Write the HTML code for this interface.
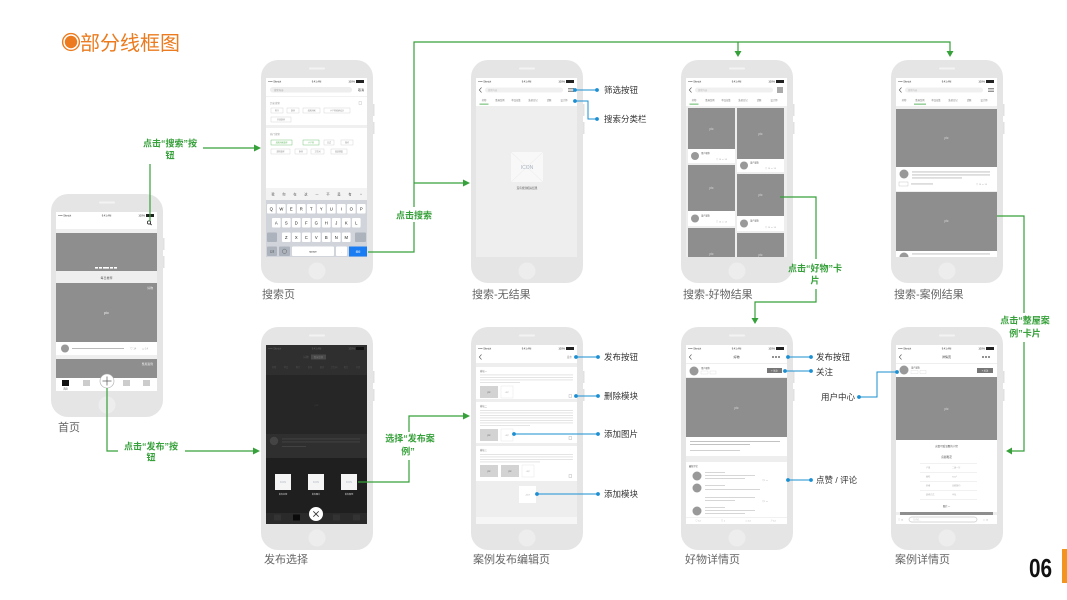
<!DOCTYPE html>
<html><head><meta charset="utf-8">
<style>
html,body{margin:0;padding:0;background:#fff;}
svg{display:block;}
text{font-family:"Liberation Sans","Noto Sans CJK SC",sans-serif;}
</style></head><body>
<svg width="1067" height="600" viewBox="0 0 1067 600" xmlns="http://www.w3.org/2000/svg">
<defs><clipPath id="sc"><rect x="0" y="0" width="101" height="179"/></clipPath></defs>
<rect width="1067" height="600" fill="#fff"/>

<!-- Title -->
<circle cx="71" cy="42" r="8.4" fill="#fff" stroke="#eb7b1e" stroke-width="1.4"/>
<circle cx="71" cy="42" r="6.2" fill="#eb7b1e"/>
<text x="80" y="50" font-size="20" fill="#eb7b1e">部分线框图</text>

<!-- Page number -->
<text x="1029" y="577" font-size="26" font-weight="bold" fill="#111" transform="translate(1029 0) scale(0.8 1) translate(-1029 0)">06</text>
<rect x="1062" y="549" width="5" height="34" fill="#f29420"/>

<!-- ============ PHONE BODIES ============ -->
<g fill="#e5e5e5">
<rect x="51" y="194" width="112" height="223" rx="17"/>
<rect x="261" y="60" width="112" height="223" rx="17"/>
<rect x="471" y="60" width="112" height="223" rx="17"/>
<rect x="681" y="60" width="112" height="223" rx="17"/>
<rect x="891" y="60" width="112" height="223" rx="17"/>
<rect x="261" y="327" width="112" height="223" rx="17"/>
<rect x="471" y="327" width="112" height="223" rx="17"/>
<rect x="681" y="327" width="112" height="223" rx="17"/>
<rect x="891" y="327" width="112" height="223" rx="17"/>
</g>
<g fill="#e1e1e1">
<rect x="163" y="238" width="1.5" height="12"/><rect x="163" y="256" width="1.5" height="12"/>
<rect x="373" y="104" width="1.5" height="12"/><rect x="373" y="122" width="1.5" height="12"/>
<rect x="583" y="104" width="1.5" height="12"/><rect x="583" y="122" width="1.5" height="12"/>
<rect x="793" y="104" width="1.5" height="12"/><rect x="793" y="122" width="1.5" height="12"/>
<rect x="1003" y="104" width="1.5" height="12"/><rect x="1003" y="122" width="1.5" height="12"/>
<rect x="373" y="371" width="1.5" height="12"/><rect x="373" y="389" width="1.5" height="12"/>
<rect x="583" y="371" width="1.5" height="12"/><rect x="583" y="389" width="1.5" height="12"/>
<rect x="793" y="371" width="1.5" height="12"/><rect x="793" y="389" width="1.5" height="12"/>
<rect x="1003" y="371" width="1.5" height="12"/><rect x="1003" y="389" width="1.5" height="12"/>
</g>
<g fill="#f3f3f3">
<rect x="99" y="201.5" width="16" height="2" rx="1"/>
<rect x="309" y="67.5" width="16" height="2" rx="1"/>
<rect x="519" y="67.5" width="16" height="2" rx="1"/>
<rect x="729" y="67.5" width="16" height="2" rx="1"/>
<rect x="939" y="67.5" width="16" height="2" rx="1"/>
<rect x="309" y="334.5" width="16" height="2" rx="1"/>
<rect x="519" y="334.5" width="16" height="2" rx="1"/>
<rect x="729" y="334.5" width="16" height="2" rx="1"/>
<rect x="939" y="334.5" width="16" height="2" rx="1"/>
</g>
<g fill="#ededed">
<circle cx="107" cy="405" r="8.5"/>
<circle cx="317" cy="271" r="8.5"/>
<circle cx="527" cy="271" r="8.5"/>
<circle cx="737" cy="271" r="8.5"/>
<circle cx="947" cy="271" r="8.5"/>
<circle cx="317" cy="538" r="8.5"/>
<circle cx="527" cy="538" r="8.5"/>
<circle cx="737" cy="538" r="8.5"/>
<circle cx="947" cy="538" r="8.5"/>
</g>

<!-- ============ P1 HOME ============ -->
<g transform="translate(56,212)" clip-path="url(#sc)">
<rect width="101" height="179" fill="#efefef"/>
<rect width="101" height="17" fill="#fff"/>
<text x="2" y="4.3" font-size="2.6" fill="#333">••••• Sketch</text><text x="50.5" y="4.3" font-size="2.6" fill="#333" text-anchor="middle">9:41 AM</text><text x="89" y="4.3" font-size="2.6" fill="#333" text-anchor="end">100%</text><rect x="90" y="2" width="8" height="3" fill="#222"/>
<circle cx="93" cy="10.5" r="1.6" fill="none" stroke="#222" stroke-width="0.8"/><line x1="94.2" y1="11.7" x2="95.6" y2="13.1" stroke="#222" stroke-width="0.9"/>
<rect y="21" width="101" height="38" fill="#8e8e8e"/>
<rect x="39" y="55" width="3" height="1.6" fill="#fff"/><rect x="43" y="55" width="3" height="1.6" fill="#fff"/><rect x="47" y="55" width="6" height="1.6" fill="#fff"/><rect x="54" y="55" width="3" height="1.6" fill="#fff"/><rect x="58" y="55" width="3" height="1.6" fill="#fff"/>
<text x="50.5" y="67" font-size="3" fill="#666" text-anchor="middle">每日推荐</text>
<rect y="71" width="101" height="59" fill="#8e8e8e"/>
<text x="50.5" y="102" font-size="4" fill="#eee" text-anchor="middle">pic</text>
<text x="97" y="77" font-size="2.8" fill="#eee" text-anchor="end">好物</text>
<rect y="130" width="101" height="13" fill="#fff"/>
<circle cx="9" cy="136.5" r="4" fill="#999"/>
<rect x="16" y="136" width="52" height="1" fill="#bbb"/>
<text x="74" y="137.5" font-size="2.6" fill="#aaa">♡ 14</text><text x="86" y="137.5" font-size="2.6" fill="#aaa">▭ 14</text>
<rect y="147" width="101" height="19" fill="#8e8e8e"/>
<text x="97" y="153" font-size="2.8" fill="#eee" text-anchor="end">整屋案例</text>
<rect y="166" width="101" height="13" fill="#fff"/>
<rect x="6" y="168" width="7" height="6" fill="#111"/>
<text x="9.5" y="177.5" font-size="2.2" fill="#333" text-anchor="middle">首页</text>
<rect x="27" y="168" width="7" height="6" fill="#ccc"/><rect x="67" y="168" width="7" height="6" fill="#ccc"/><rect x="87" y="168" width="7" height="6" fill="#ccc"/>
<circle cx="51" cy="169" r="7" fill="#fff" stroke="#aaa" stroke-width="0.6"/>
<line x1="46.5" y1="169" x2="55.5" y2="169" stroke="#555" stroke-width="0.7"/><line x1="51" y1="164.5" x2="51" y2="173.5" stroke="#555" stroke-width="0.7"/>
</g>

<!-- ============ P2 SEARCH ============ -->
<g transform="translate(266,78)" clip-path="url(#sc)">
<rect width="101" height="179" fill="#fff"/>
<text x="2" y="4.3" font-size="2.6" fill="#333">••••• Sketch</text><text x="50.5" y="4.3" font-size="2.6" fill="#333" text-anchor="middle">9:41 AM</text><text x="89" y="4.3" font-size="2.6" fill="#333" text-anchor="end">100%</text><rect x="90" y="2" width="8" height="3" fill="#222"/>
<rect x="4" y="9" width="82" height="5.5" rx="2.7" fill="#eee"/>
<text x="8" y="12.8" font-size="2.4" fill="#aaa">搜索内容</text>
<text x="95" y="12.8" font-size="3" fill="#444" text-anchor="middle">取消</text>
<rect y="18.5" width="101" height="0.5" fill="#e5e5e5"/>
<text x="4" y="26" font-size="2.5" fill="#999">历史搜索</text>
<rect x="93" y="23.5" width="2.5" height="3" fill="none" stroke="#bbb" stroke-width="0.4"/>
<g fill="#fff" stroke="#ccc" stroke-width="0.4">
<rect x="5" y="30" width="12" height="5"/><rect x="21" y="30" width="12" height="5"/><rect x="37" y="30" width="17" height="5"/><rect x="58" y="30" width="26" height="5"/><rect x="5" y="39" width="20" height="5"/>
<rect x="58" y="62" width="10" height="5"/><rect x="75" y="62" width="12" height="5"/>
<rect x="5" y="71" width="19" height="5"/><rect x="29" y="71" width="12" height="5"/><rect x="45" y="71" width="13" height="5"/><rect x="65" y="71" width="16" height="5"/>
</g>
<g fill="#fff" stroke="#5cb85c" stroke-width="0.4"><rect x="5" y="62" width="21" height="5"/><rect x="37" y="62" width="16" height="5"/></g>
<g font-size="2" fill="#888" text-anchor="middle">
<text x="11" y="33.3">客厅</text><text x="27" y="33.3">厨房</text><text x="45.5" y="33.3">北欧风格</text><text x="71" y="33.3">小户型收纳设计</text><text x="15" y="42.3">开放厨房</text>
<text x="63" y="65.3">日式</text><text x="81" y="65.3">简约</text>
<text x="14.5" y="74.3">混搭装修</text><text x="35" y="74.3">卧室</text><text x="51.5" y="74.3">卫生间</text><text x="73" y="74.3">软装搭配</text>
</g>
<g font-size="2" fill="#5cb85c" text-anchor="middle"><text x="15.5" y="65.3">北欧风格装修</text><text x="45" y="65.3">小户型</text></g>
<rect y="47" width="101" height="3" fill="#f0f0f0"/>
<text x="4" y="57" font-size="2.5" fill="#999">热门搜索</text>
<!-- keyboard -->
<rect y="110" width="101" height="69" fill="#d1d5db"/>
<rect y="110" width="101" height="12" fill="#f3f3f3"/>
<g font-size="3.2" fill="#555" text-anchor="middle">
<text x="7" y="117.5">我</text><text x="18" y="117.5">你</text><text x="29" y="117.5">在</text><text x="40" y="117.5">这</text><text x="51" y="117.5">一</text><text x="62" y="117.5">不</text><text x="73" y="117.5">是</text><text x="84" y="117.5">有</text><text x="95" y="118">^</text>
</g>
<g fill="#fff">
<rect x="1" y="126" width="8.6" height="9.5" rx="1"/><rect x="11" y="126" width="8.6" height="9.5" rx="1"/><rect x="21" y="126" width="8.6" height="9.5" rx="1"/><rect x="31" y="126" width="8.6" height="9.5" rx="1"/><rect x="41" y="126" width="8.6" height="9.5" rx="1"/><rect x="51" y="126" width="8.6" height="9.5" rx="1"/><rect x="61" y="126" width="8.6" height="9.5" rx="1"/><rect x="71" y="126" width="8.6" height="9.5" rx="1"/><rect x="81" y="126" width="8.6" height="9.5" rx="1"/><rect x="91" y="126" width="8.6" height="9.5" rx="1"/>
<rect x="6" y="140" width="8.6" height="9.5" rx="1"/><rect x="16" y="140" width="8.6" height="9.5" rx="1"/><rect x="26" y="140" width="8.6" height="9.5" rx="1"/><rect x="36" y="140" width="8.6" height="9.5" rx="1"/><rect x="46" y="140" width="8.6" height="9.5" rx="1"/><rect x="56" y="140" width="8.6" height="9.5" rx="1"/><rect x="66" y="140" width="8.6" height="9.5" rx="1"/><rect x="76" y="140" width="8.6" height="9.5" rx="1"/><rect x="86" y="140" width="8.6" height="9.5" rx="1"/>
<rect x="16" y="154.5" width="8.6" height="9.5" rx="1"/><rect x="26" y="154.5" width="8.6" height="9.5" rx="1"/><rect x="36" y="154.5" width="8.6" height="9.5" rx="1"/><rect x="46" y="154.5" width="8.6" height="9.5" rx="1"/><rect x="56" y="154.5" width="8.6" height="9.5" rx="1"/><rect x="66" y="154.5" width="8.6" height="9.5" rx="1"/><rect x="76" y="154.5" width="8.6" height="9.5" rx="1"/>
<rect x="26" y="168.5" width="42" height="9.5" rx="1"/><rect x="70" y="168.5" width="11" height="9.5" rx="1"/>
</g>
<g fill="#adb3bc">
<rect x="1" y="154.5" width="10" height="9.5" rx="1"/><rect x="89" y="154.5" width="11" height="9.5" rx="1"/>
<rect x="1" y="168.5" width="10" height="9.5" rx="1"/><rect x="13" y="168.5" width="11" height="9.5" rx="1"/>
</g>
<rect x="83" y="168.5" width="18" height="10" fill="#1a7cf2"/>
<g font-size="4.2" fill="#222" text-anchor="middle">
<text x="5.3" y="132.5">Q</text><text x="15.3" y="132.5">W</text><text x="25.3" y="132.5">E</text><text x="35.3" y="132.5">R</text><text x="45.3" y="132.5">T</text><text x="55.3" y="132.5">Y</text><text x="65.3" y="132.5">U</text><text x="75.3" y="132.5">I</text><text x="85.3" y="132.5">O</text><text x="95.3" y="132.5">P</text>
<text x="10.3" y="146.5">A</text><text x="20.3" y="146.5">S</text><text x="30.3" y="146.5">D</text><text x="40.3" y="146.5">F</text><text x="50.3" y="146.5">G</text><text x="60.3" y="146.5">H</text><text x="70.3" y="146.5">J</text><text x="80.3" y="146.5">K</text><text x="90.3" y="146.5">L</text>
<text x="20.3" y="161">Z</text><text x="30.3" y="161">X</text><text x="40.3" y="161">C</text><text x="50.3" y="161">V</text><text x="60.3" y="161">B</text><text x="70.3" y="161">N</text><text x="80.3" y="161">M</text>
</g>
<text x="6" y="174.5" font-size="2.6" fill="#333" text-anchor="middle">123</text>
<circle cx="18.5" cy="173.3" r="2.2" fill="none" stroke="#555" stroke-width="0.4"/>
<text x="47" y="174.5" font-size="2.8" fill="#333" text-anchor="middle">space</text>
<text x="75.5" y="174.5" font-size="3" fill="#333" text-anchor="middle">.</text>
<text x="92" y="174.5" font-size="2.4" fill="#fff" text-anchor="middle">搜索</text>
</g>

<!-- ============ P3 NO RESULT ============ -->
<g transform="translate(476,78)" clip-path="url(#sc)">
<rect width="101" height="179" fill="#eee"/>
<rect width="101" height="28" fill="#fff"/>
<text x="2" y="4.3" font-size="2.6" fill="#333">••••• Sketch</text><text x="50.5" y="4.3" font-size="2.6" fill="#333" text-anchor="middle">9:41 AM</text><text x="89" y="4.3" font-size="2.6" fill="#333" text-anchor="end">100%</text><rect x="90" y="2" width="8" height="3" fill="#222"/>
<path d="M5.5,9.5 L3.3,12 L5.5,14.5" stroke="#555" stroke-width="0.6" fill="none"/>
<rect x="9" y="9.5" width="78" height="5" rx="2.5" fill="#f0f0f0"/>
<text x="12" y="13" font-size="2.3" fill="#bbb">搜索内容</text>
<path d="M92,10.3 H98 M92,12 H98 M92,13.7 H98" stroke="#555" stroke-width="0.6"/>
<g font-size="2.3" fill="#777" text-anchor="middle"><text x="8" y="23">好物</text><text x="24" y="23">整屋案例</text><text x="40" y="23">单品征集</text><text x="57" y="23">装修日记</text><text x="73" y="23">话题</text><text x="88" y="23">设计师</text></g>
<rect x="3.5" y="25.7" width="9" height="0.8" fill="#3aa640"/>
<rect x="35" y="74" width="32" height="30" fill="#f8f8f8"/>
<path d="M35,74 L67,104 M67,74 L35,104" stroke="#e2e2e2" stroke-width="0.4"/>
<text x="51" y="91" font-size="5" fill="#a9b4c2" text-anchor="middle">ICON</text>
<text x="51" y="111" font-size="2.6" fill="#555" text-anchor="middle">没有找到相关结果</text>
</g>

<!-- ============ P4 GOODS RESULT ============ -->
<g transform="translate(686,78)" clip-path="url(#sc)">
<rect width="101" height="179" fill="#eee"/>
<rect width="101" height="28" fill="#fff"/>
<text x="2" y="4.3" font-size="2.6" fill="#333">••••• Sketch</text><text x="50.5" y="4.3" font-size="2.6" fill="#333" text-anchor="middle">9:41 AM</text><text x="89" y="4.3" font-size="2.6" fill="#333" text-anchor="end">100%</text><rect x="90" y="2" width="8" height="3" fill="#222"/>
<path d="M5.5,9.5 L3.3,12 L5.5,14.5" stroke="#555" stroke-width="0.6" fill="none"/>
<rect x="9" y="9.5" width="78" height="5" rx="2.5" fill="#f0f0f0"/>
<text x="12" y="13" font-size="2.3" fill="#bbb">搜索内容</text>
<rect x="91" y="9" width="6" height="6" fill="#aaa"/>
<g font-size="2.3" fill="#777" text-anchor="middle"><text x="8" y="23">好物</text><text x="24" y="23">整屋案例</text><text x="40" y="23">单品征集</text><text x="57" y="23">装修日记</text><text x="73" y="23">话题</text><text x="88" y="23">设计师</text></g>
<rect x="3.5" y="25.7" width="9" height="0.8" fill="#3aa640"/>
<g fill="#8e8e8e">
<rect x="2" y="30" width="47" height="41"/><rect x="2" y="87" width="47" height="46"/><rect x="2" y="150" width="47" height="29"/>
<rect x="51" y="30" width="47" height="51"/><rect x="51" y="96" width="47" height="42"/><rect x="51" y="155" width="47" height="24"/>
</g>
<g fill="#fff">
<rect x="2" y="71" width="47" height="14"/><rect x="2" y="133" width="47" height="15"/>
<rect x="51" y="81" width="47" height="13"/><rect x="51" y="138" width="47" height="15"/>
</g>
<g fill="#999"><circle cx="9" cy="78" r="4"/><circle cx="9" cy="140.5" r="4"/><circle cx="58" cy="87.5" r="4"/><circle cx="58" cy="145.5" r="4"/></g>
<g font-size="2.2" fill="#555"><text x="15" y="76">用户昵称</text><text x="15" y="138.5">用户昵称</text><text x="64" y="85.5">用户昵称</text><text x="64" y="143.5">用户昵称</text></g>
<g font-size="2.2" fill="#aaa"><text x="30" y="82">♡ 14  ▭ 14</text><text x="30" y="144.5">♡ 14  ▭ 14</text><text x="79" y="91">♡ 14  ▭ 14</text><text x="79" y="150">♡ 14  ▭ 14</text></g>
<g font-size="3.2" fill="#ddd" text-anchor="middle"><text x="25.5" y="52">pic</text><text x="25.5" y="111">pic</text><text x="25.5" y="177">pic</text><text x="74.5" y="57">pic</text><text x="74.5" y="118">pic</text><text x="74.5" y="178">pic</text></g>
</g>

<!-- ============ P5 CASE RESULT ============ -->
<g transform="translate(896,78)" clip-path="url(#sc)">
<rect width="101" height="179" fill="#eee"/>
<rect width="101" height="28" fill="#fff"/>
<text x="2" y="4.3" font-size="2.6" fill="#333">••••• Sketch</text><text x="50.5" y="4.3" font-size="2.6" fill="#333" text-anchor="middle">9:41 AM</text><text x="89" y="4.3" font-size="2.6" fill="#333" text-anchor="end">100%</text><rect x="90" y="2" width="8" height="3" fill="#222"/>
<path d="M5.5,9.5 L3.3,12 L5.5,14.5" stroke="#555" stroke-width="0.6" fill="none"/>
<rect x="9" y="9.5" width="78" height="5" rx="2.5" fill="#f0f0f0"/>
<text x="12" y="13" font-size="2.3" fill="#bbb">搜索内容</text>
<path d="M92,10.3 H98 M92,12 H98 M92,13.7 H98" stroke="#555" stroke-width="0.6"/>
<g font-size="2.3" fill="#777" text-anchor="middle"><text x="8" y="23">好物</text><text x="24" y="23">整屋案例</text><text x="40" y="23">单品征集</text><text x="57" y="23">装修日记</text><text x="73" y="23">话题</text><text x="88" y="23">设计师</text></g>
<rect x="18" y="25.7" width="12" height="0.8" fill="#3aa640"/>
<rect y="31" width="101" height="58" fill="#8e8e8e"/>
<text x="50.5" y="61" font-size="3.2" fill="#ddd" text-anchor="middle">pic</text>
<rect y="89" width="101" height="24" fill="#fff"/>
<circle cx="8" cy="96" r="4.5" fill="#999"/>
<rect x="16" y="93.5" width="78" height="0.9" fill="#bbb"/><rect x="16" y="96.5" width="78" height="0.9" fill="#bbb"/><rect x="16" y="99.5" width="50" height="0.9" fill="#bbb"/>
<rect x="3" y="104" width="9" height="4" fill="none" stroke="#bbb" stroke-width="0.4"/>
<rect x="15" y="105.5" width="22" height="0.9" fill="#bbb"/>
<text x="80" y="107" font-size="2.2" fill="#aaa">♡ 14  ▭ 14</text>
<rect y="114" width="101" height="59" fill="#8e8e8e"/>
<text x="50.5" y="144" font-size="3.2" fill="#ddd" text-anchor="middle">pic</text>
<rect y="173" width="101" height="6" fill="#fff"/>
<circle cx="8" cy="179" r="4.5" fill="#999"/>
<rect x="16" y="175.5" width="78" height="0.9" fill="#bbb"/>
</g>

<!-- ============ P6 PUBLISH CHOOSE ============ -->
<g transform="translate(266,345)" clip-path="url(#sc)">
<rect width="101" height="179" fill="#2f2f2f"/>
<text x="2" y="4.3" font-size="2.6" fill="#666">••••• Sketch</text><text x="50.5" y="4.3" font-size="2.6" fill="#666" text-anchor="middle">9:41 AM</text><text x="89" y="4.3" font-size="2.6" fill="#666" text-anchor="end">100%</text><rect x="90" y="2" width="8" height="3" fill="#111"/>
<text x="40" y="13" font-size="2.6" fill="#555" text-anchor="middle">好物</text>
<rect x="45" y="9.5" width="15" height="5" fill="#4a4a4a"/>
<text x="52.5" y="13" font-size="2.3" fill="#777" text-anchor="middle">整屋案例</text>
<g font-size="2.2" fill="#505050" text-anchor="middle"><text x="8" y="23">好物</text><text x="20" y="23">单品</text><text x="32" y="23">客厅</text><text x="44" y="23">卧室</text><text x="56" y="23">厨房</text><text x="68" y="23">卫生间</text><text x="80" y="23">阳台</text><text x="92" y="23">书房</text></g>
<rect y="30" width="101" height="59" fill="#262626"/>
<text x="50.5" y="61" font-size="3" fill="#3e3e3e" text-anchor="middle">pic</text>
<circle cx="8" cy="96" r="4.2" fill="#444"/>
<rect x="16" y="93.5" width="78" height="0.9" fill="#444"/><rect x="16" y="96.5" width="78" height="0.9" fill="#444"/>
<rect x="16" y="101" width="24" height="0.9" fill="#444"/>
<rect y="113" width="101" height="55" fill="#1f1f1f"/>
<g fill="#f5f5f5"><rect x="9" y="129" width="16" height="16"/><rect x="42" y="129" width="16" height="16"/><rect x="75" y="129" width="16" height="16"/></g>
<g font-size="2.4" fill="#a9b4c2" text-anchor="middle"><text x="17" y="138">ICON</text><text x="50" y="138">ICON</text><text x="83" y="138">ICON</text></g>
<g font-size="2.1" fill="#ddd" text-anchor="middle"><text x="17" y="150">发布好物</text><text x="50" y="150">发布图片</text><text x="83" y="150">发布案例</text></g>
<rect y="168" width="101" height="11" fill="#2a2a2a"/>
<rect x="27" y="169.5" width="7" height="6" fill="#0a0a0a"/>
<rect x="8" y="169.5" width="7" height="6" fill="#333"/><rect x="67" y="169.5" width="7" height="6" fill="#333"/><rect x="87" y="169.5" width="7" height="6" fill="#333"/>
<circle cx="50" cy="169" r="7" fill="#fff"/>
<path d="M47.3,166.3 L52.7,171.7 M52.7,166.3 L47.3,171.7" stroke="#333" stroke-width="0.8"/>
</g>

<!-- ============ P7 EDIT ============ -->
<g transform="translate(476,345)" clip-path="url(#sc)">
<rect width="101" height="179" fill="#eee"/>
<rect width="101" height="18" fill="#fff"/>
<text x="2" y="4.3" font-size="2.6" fill="#333">••••• Sketch</text><text x="50.5" y="4.3" font-size="2.6" fill="#333" text-anchor="middle">9:41 AM</text><text x="89" y="4.3" font-size="2.6" fill="#333" text-anchor="end">100%</text><rect x="90" y="2" width="8" height="3" fill="#222"/>
<path d="M5.5,9.5 L3.3,12 L5.5,14.5" stroke="#555" stroke-width="0.6" fill="none"/>
<text x="96" y="13" font-size="2.6" fill="#999" text-anchor="end">发布</text>
<g fill="#fff"><rect y="22" width="101" height="32"/><rect y="57" width="101" height="41"/><rect y="101" width="101" height="35"/></g>
<g font-size="2.3" fill="#777"><text x="4" y="27">模块一</text><text x="4" y="62">模块二</text><text x="4" y="106">模块三</text></g>
<g fill="#ddd">
<rect x="4" y="29.5" width="93" height="0.8"/><rect x="4" y="32" width="93" height="0.8"/><rect x="4" y="34.5" width="93" height="0.8"/><rect x="4" y="37" width="40" height="0.8"/>
<rect x="4" y="65" width="93" height="0.8"/><rect x="4" y="67.5" width="93" height="0.8"/><rect x="4" y="70" width="93" height="0.8"/><rect x="4" y="72.5" width="93" height="0.8"/><rect x="4" y="75" width="93" height="0.8"/><rect x="4" y="77.5" width="93" height="0.8"/><rect x="4" y="80" width="50" height="0.8"/>
<rect x="4" y="109" width="93" height="0.8"/><rect x="4" y="111.5" width="93" height="0.8"/><rect x="4" y="114" width="93" height="0.8"/><rect x="4" y="116.5" width="60" height="0.8"/>
</g>
<g fill="#d3d3d3"><rect x="4" y="41" width="18" height="12"/><rect x="4" y="84" width="18" height="12"/><rect x="4" y="120" width="18" height="12"/><rect x="25" y="120" width="18" height="12"/></g>
<g font-size="2.3" fill="#666" text-anchor="middle"><text x="13" y="47.8">pic</text><text x="13" y="90.8">pic</text><text x="13" y="126.8">pic</text><text x="34" y="126.8">pic</text></g>
<g fill="#fff" stroke="#e0e0e0" stroke-width="0.4"><rect x="25" y="41" width="12" height="12"/><rect x="25" y="84" width="12" height="12"/><rect x="46" y="120" width="12" height="12"/></g>
<g font-size="1.8" fill="#bbb" text-anchor="middle"><text x="31" y="47.8">+图片</text><text x="31" y="90.8">+图片</text><text x="52" y="126.8">+图片</text></g>
<g fill="none" stroke="#aaa" stroke-width="0.4"><rect x="93" y="49.5" width="2.6" height="3"/><rect x="93" y="91.5" width="2.6" height="3"/><rect x="93" y="129.5" width="2.6" height="3"/></g>
<rect x="43" y="141" width="17" height="17" fill="#fff"/>
<text x="51.5" y="150.5" font-size="1.9" fill="#bbb" text-anchor="middle">+模块</text>
<rect y="172" width="101" height="7" fill="#f6f6f6"/>
</g>

<!-- ============ P8 GOODS DETAIL ============ -->
<g transform="translate(686,345)" clip-path="url(#sc)">
<rect width="101" height="179" fill="#eee"/>
<rect width="101" height="18" fill="#fff"/>
<text x="2" y="4.3" font-size="2.6" fill="#333">••••• Sketch</text><text x="50.5" y="4.3" font-size="2.6" fill="#333" text-anchor="middle">9:41 AM</text><text x="89" y="4.3" font-size="2.6" fill="#333" text-anchor="end">100%</text><rect x="90" y="2" width="8" height="3" fill="#222"/>
<path d="M5.5,9.5 L3.3,12 L5.5,14.5" stroke="#555" stroke-width="0.6" fill="none"/>
<text x="50.5" y="13" font-size="3" fill="#333" text-anchor="middle">好物</text>
<g fill="#444"><circle cx="87" cy="12" r="0.9"/><circle cx="90" cy="12" r="0.9"/><circle cx="93" cy="12" r="0.9"/></g>
<rect y="19" width="101" height="13" fill="#fff"/>
<circle cx="8" cy="26" r="4.5" fill="#999"/>
<text x="15" y="24" font-size="2.2" fill="#555">用户昵称</text>
<rect x="15" y="26" width="7" height="3" fill="none" stroke="#ccc" stroke-width="0.3"/><rect x="24" y="26" width="6" height="3" fill="none" stroke="#ccc" stroke-width="0.3"/>
<rect x="81" y="23" width="15" height="5" fill="#777"/>
<text x="88.5" y="26.6" font-size="2.3" fill="#fff" text-anchor="middle">+ 关注</text>
<rect y="33" width="101" height="59" fill="#8e8e8e"/>
<text x="50.5" y="64" font-size="3.2" fill="#ddd" text-anchor="middle">pic</text>
<rect y="92" width="101" height="19" fill="#fff"/>
<rect x="4" y="96" width="90" height="0.9" fill="#bbb"/><rect x="4" y="99" width="60" height="0.9" fill="#bbb"/><rect x="4" y="105" width="50" height="0.9" fill="#ccc"/>
<rect y="117" width="101" height="55" fill="#fff"/>
<text x="3" y="122" font-size="2.2" fill="#555">最新评论</text>
<g fill="#999"><circle cx="11" cy="131" r="4.5"/><circle cx="11" cy="143" r="4.5"/><circle cx="11" cy="166" r="4.5"/></g>
<g fill="#ccc">
<rect x="19" y="127" width="20" height="0.8"/><rect x="19" y="130" width="50" height="0.8"/><rect x="19" y="133" width="40" height="0.8"/>
<rect x="19" y="140" width="20" height="0.8"/><rect x="19" y="144" width="55" height="0.8"/><rect x="19" y="152" width="50" height="0.8"/><rect x="19" y="155" width="30" height="0.8"/>
<rect x="19" y="162" width="20" height="0.8"/><rect x="19" y="165" width="50" height="0.8"/><rect x="19" y="168" width="40" height="0.8"/>
</g>
<g font-size="2.2" fill="#aaa"><text x="76" y="136">♡1  ▭</text><text x="76" y="157">♡1  ▭</text></g>
<rect y="172" width="101" height="7" fill="#fff"/>
<rect y="172" width="101" height="0.4" fill="#ddd"/>
<g font-size="2.2" fill="#aaa" text-anchor="middle"><text x="12" y="176.5">♡ 14</text><text x="37" y="176.5">♡ 1</text><text x="62" y="176.5">▭ 14</text><text x="87" y="176.5">↗ 14</text></g>
</g>

<!-- ============ P9 CASE DETAIL ============ -->
<g transform="translate(896,345)" clip-path="url(#sc)">
<rect width="101" height="179" fill="#eee"/>
<rect width="101" height="18" fill="#fff"/>
<text x="2" y="4.3" font-size="2.6" fill="#333">••••• Sketch</text><text x="50.5" y="4.3" font-size="2.6" fill="#333" text-anchor="middle">9:41 AM</text><text x="89" y="4.3" font-size="2.6" fill="#333" text-anchor="end">100%</text><rect x="90" y="2" width="8" height="3" fill="#222"/>
<path d="M5.5,9.5 L3.3,12 L5.5,14.5" stroke="#555" stroke-width="0.6" fill="none"/>
<text x="50.5" y="13" font-size="3" fill="#333" text-anchor="middle">详情页</text>
<g fill="#444"><circle cx="87" cy="12" r="0.9"/><circle cx="90" cy="12" r="0.9"/><circle cx="93" cy="12" r="0.9"/></g>
<rect y="19" width="101" height="13" fill="#fff"/>
<circle cx="8" cy="25" r="4.5" fill="#999"/>
<text x="15" y="23.5" font-size="2.2" fill="#555">用户昵称</text>
<rect x="15" y="25.5" width="7" height="3" fill="none" stroke="#ccc" stroke-width="0.3"/><rect x="24" y="25.5" width="6" height="3" fill="none" stroke="#ccc" stroke-width="0.3"/>
<rect x="81" y="23" width="16" height="5" fill="#777"/>
<text x="89" y="26.6" font-size="2.3" fill="#fff" text-anchor="middle">+ 关注</text>
<rect y="32" width="101" height="63" fill="#8e8e8e"/>
<text x="50.5" y="65" font-size="3.2" fill="#ddd" text-anchor="middle">pic</text>
<rect y="95" width="101" height="72" fill="#fff"/>
<text x="50.5" y="102" font-size="2.5" fill="#555" text-anchor="middle">这套可爱温馨的小窝</text>
<text x="50.5" y="113" font-size="2.6" fill="#444" text-anchor="middle">房屋概况</text>
<g fill="#e3e3e3"><rect x="24" y="118" width="57" height="0.5"/><rect x="24" y="127" width="57" height="0.5"/><rect x="24" y="136" width="57" height="0.5"/><rect x="24" y="145" width="57" height="0.5"/><rect x="24" y="154" width="57" height="0.5"/></g>
<g font-size="2.1" fill="#aaa"><text x="30" y="123.5">户型</text><text x="56" y="123.5">二居一厅</text><text x="30" y="132.5">面积</text><text x="56" y="132.5">70m²</text><text x="30" y="141.5">风格</text><text x="56" y="141.5">北欧简约</text><text x="30" y="150.5">装修方式</text><text x="56" y="150.5">半包</text></g>
<text x="50.5" y="162" font-size="2.4" fill="#555" text-anchor="middle">图片一</text>
<rect x="4" y="167" width="93" height="3" fill="#8e8e8e"/>
<rect y="170" width="101" height="9" fill="#fff"/>
<text x="2" y="175.5" font-size="2.2" fill="#aaa">♡ 14</text>
<rect x="13" y="172" width="68" height="5" rx="2.5" fill="#fff" stroke="#999" stroke-width="0.4"/>
<text x="17" y="175.5" font-size="2" fill="#bbb">写评论...</text>
<text x="87" y="175.5" font-size="2.2" fill="#aaa">▭ 14</text>
</g>

<!-- ============ PHONE LABELS ============ -->
<g font-size="11" fill="#666">
<text x="58" y="431">首页</text>
<text x="262" y="298">搜索页</text>
<text x="472" y="298">搜索-无结果</text>
<text x="683" y="298">搜索-好物结果</text>
<text x="894" y="298">搜索-案例结果</text>
<text x="264" y="563">发布选择</text>
<text x="473" y="563">案例发布编辑页</text>
<text x="685" y="563">好物详情页</text>
<text x="895" y="563">案例详情页</text>
</g>

<!-- ============ GREEN CONNECTORS ============ -->
<g stroke="#36a03a" stroke-width="1.2" fill="none">
<path d="M150,164 V221"/>
<path d="M203,148 H256"/>
<path d="M368,252 H414 V222"/>
<path d="M414,207 V42 H950 V53"/>
<path d="M738,42 V53"/>
<path d="M414,183 H465"/>
<path d="M780,197 H816 V259"/>
<path d="M816,289 V302 H755 V320"/>
<path d="M997,216 H1024 V313"/>
<path d="M1024,342 V451 H1011"/>
<path d="M107,388 V451 H118"/>
<path d="M185,451 H255"/>
<path d="M358,482 H409 V460"/>
<path d="M409,432 V416 H465"/>
</g>
<g fill="#36a03a">
<polygon points="261,148 254,144.5 254,151.5"/>
<polygon points="738,57 734.5,51 741.5,51"/>
<polygon points="950,57 946.5,51 953.5,51"/>
<polygon points="470,183 463,179.5 463,186.5"/>
<polygon points="755,324 751.5,318 758.5,318"/>
<polygon points="1006,451 1012,447.5 1012,454.5"/>
<polygon points="260,451 253,447.5 253,454.5"/>
<polygon points="470,416 463,412.5 463,419.5"/>
</g>
<g font-size="9" fill="#36a03a" font-weight="bold" text-anchor="middle">
<text x="170" y="146.5">点击“搜索”按</text>
<text x="170" y="158.5">钮</text>
<text x="414" y="218.5">点击搜索</text>
<text x="815" y="271.5">点击“好物”卡</text>
<text x="815" y="283.5">片</text>
<text x="1025" y="323.5">点击“整屋案</text>
<text x="1025" y="336.5">例”卡片</text>
<text x="151" y="449.5">点击“发布”按</text>
<text x="151" y="460.5">钮</text>
<text x="410" y="441.5">选择“发布案</text>
<text x="408" y="454.5">例”</text>
</g>

<!-- ============ BLUE ANNOTATIONS ============ -->
<g stroke="#1b8fd2" stroke-width="1" fill="none">
<path d="M575,90 H597"/>
<path d="M575,101 H588 V119 H597"/>
<path d="M576,357 H598"/>
<path d="M576,396 H598"/>
<path d="M514,434 H598"/>
<path d="M537,494 H598"/>
<path d="M788,357 H811"/>
<path d="M785,371 H811"/>
<path d="M788,480 H811"/>
<path d="M859,397 H877 V372 H897"/>
</g>
<g fill="#1b8fd2">
<circle cx="575" cy="90" r="1.9"/><circle cx="597" cy="90" r="1.9"/>
<circle cx="575" cy="101" r="1.9"/><circle cx="597" cy="119" r="1.9"/>
<circle cx="576" cy="357" r="1.9"/><circle cx="598" cy="357" r="1.9"/>
<circle cx="576" cy="396" r="1.9"/><circle cx="598" cy="396" r="1.9"/>
<circle cx="514" cy="434" r="1.9"/><circle cx="598" cy="434" r="1.9"/>
<circle cx="537" cy="494" r="1.9"/><circle cx="598" cy="494" r="1.9"/>
<circle cx="788" cy="357" r="1.9"/><circle cx="811" cy="357" r="1.9"/>
<circle cx="785" cy="371" r="1.9"/><circle cx="811" cy="371" r="1.9"/>
<circle cx="788" cy="480" r="1.9"/><circle cx="811" cy="480" r="1.9"/>
<circle cx="859" cy="397" r="1.9"/><circle cx="897" cy="372" r="1.9"/>
</g>
<g font-size="8.5" fill="#333">
<text x="604" y="93">筛选按钮</text>
<text x="604" y="122">搜索分类栏</text>
<text x="604" y="360">发布按钮</text>
<text x="604" y="399">删除模块</text>
<text x="604" y="437">添加图片</text>
<text x="604" y="497">添加模块</text>
<text x="816" y="360">发布按钮</text>
<text x="816" y="375">关注</text>
<text x="855" y="400" text-anchor="end">用户中心</text>
<text x="816" y="483">点赞 / 评论</text>
</g>
</svg>
</body></html>
